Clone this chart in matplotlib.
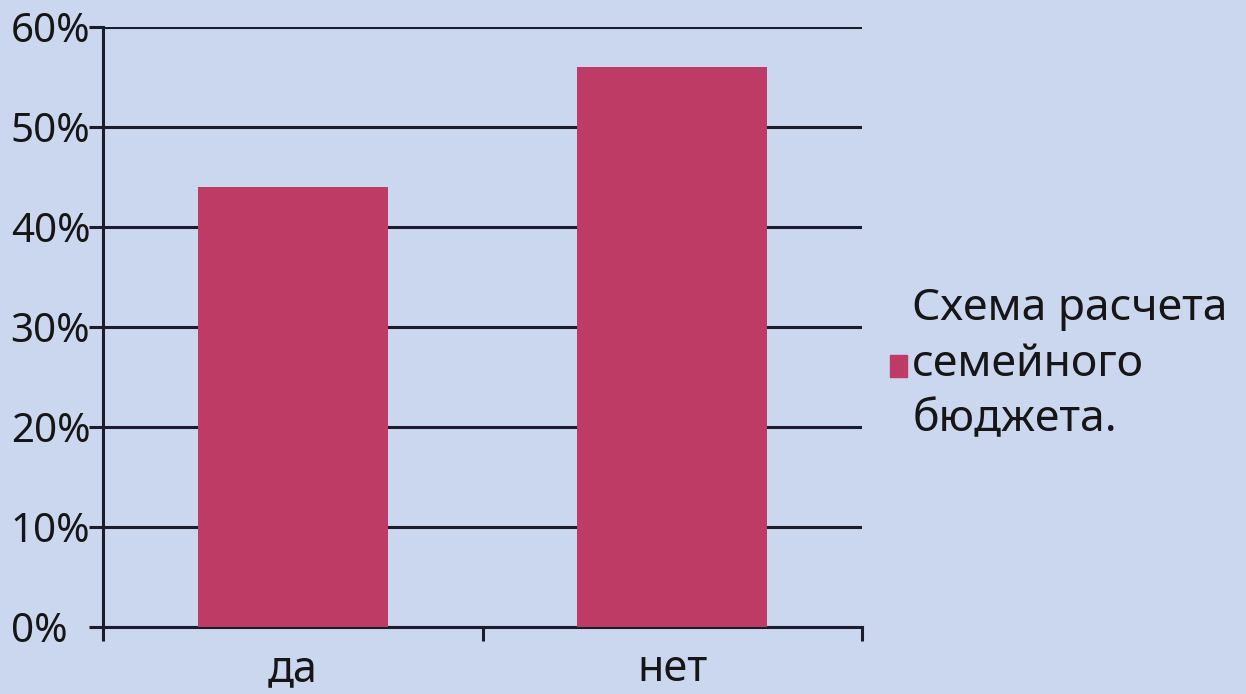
import matplotlib
matplotlib.use("Agg")
import matplotlib.pyplot as plt
from matplotlib.patches import Patch

# data
categories = ["да", "нет"]
values = [44, 56]
series_name = "Схема расчета\nсемейного\nбюджета."
yticks = [0, 10, 20, 30, 40, 50, 60]

bg = "#cbd6ef"
bar_color = "#bd3b65"
line_color = "#1c1c2a"
text_color = "#161616"

plt.rcParams["font.family"] = ["Noto Sans", "DejaVu Sans"]

fig = plt.figure(figsize=(12.46, 6.94), dpi=100, facecolor=bg)
ax = fig.add_axes([0.0827, 0.0965, 0.6091, 0.8646])
ax.set_facecolor("none")

x = list(range(len(categories)))
ax.bar(x, values, width=0.5, color=bar_color, zorder=3)

ax.set_xlim(-0.5, len(categories) - 0.5)
ax.set_ylim(0, 60)
ax.set_yticks(yticks)
ax.set_yticklabels([f"{v}%" for v in yticks])
ax.set_xticks(x)
ax.set_xticklabels(categories)
ax.set_xticks([-0.5, 0.5, 1.5], minor=True)

ax.yaxis.grid(True, color=line_color, linewidth=2.2, zorder=1)
for s in ["top", "right"]:
    ax.spines[s].set_visible(False)
for s in ["left", "bottom"]:
    ax.spines[s].set_color(line_color)
    ax.spines[s].set_linewidth(2.2)

# y labels are left aligned in the original
ax.tick_params(axis="y", length=10, width=2.2, color=line_color,
               labelsize=29, pad=56.5, labelcolor=text_color)
for lab in ax.get_yticklabels():
    lab.set_horizontalalignment("left")
ax.tick_params(axis="x", which="major", length=0, labelsize=31,
               pad=15, labelcolor=text_color)
ax.tick_params(axis="x", which="minor", length=10, width=2.2, color=line_color)

handle = Patch(color=bar_color, label=series_name)
leg = ax.legend(handles=[handle], loc="center left",
                bbox_to_anchor=(0.7143, 0.474), bbox_transform=fig.transFigure,
                frameon=False, borderpad=0, borderaxespad=0,
                fontsize=32, handlelength=0.38, handleheight=0.38,
                handletextpad=0.12, labelspacing=0)
for t in leg.get_texts():
    t.set_color(text_color)
    t.set_linespacing(1.35)

fig.savefig("out.png", dpi=100, facecolor=bg)
